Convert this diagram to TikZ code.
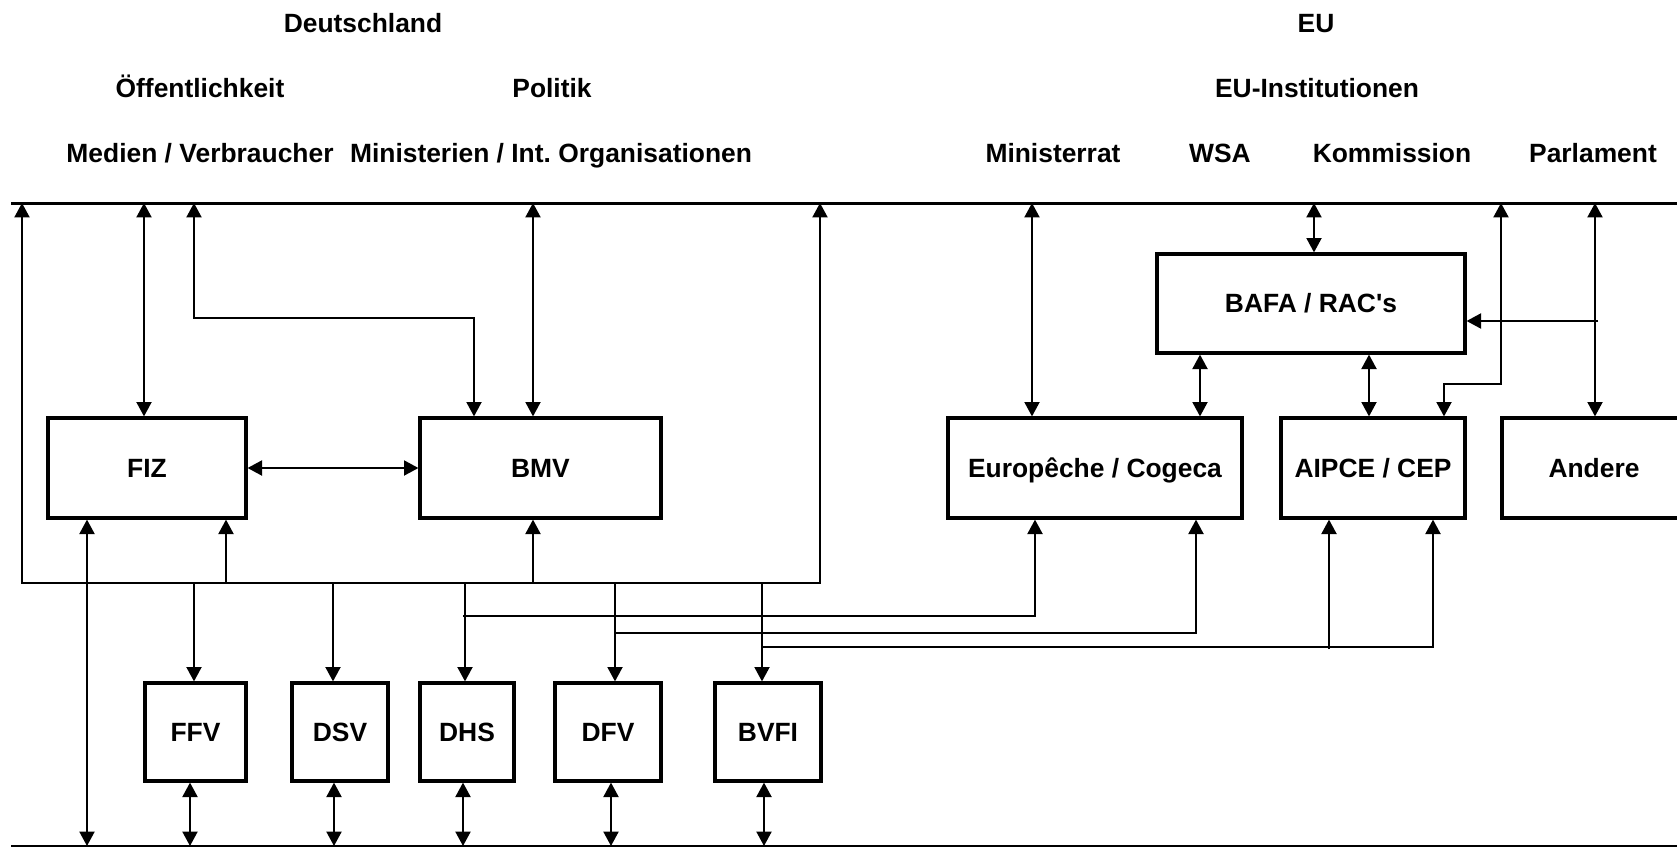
\documentclass[tikz,border=0pt]{standalone}
\usepackage{fontspec}
\setmainfont{Liberation Sans}
\usetikzlibrary{arrows.meta}
\frenchspacing
\begin{document}
\begin{tikzpicture}[x=0.5pt,y=-0.5pt,
  fnt/.style={font=\bfseries\fontsize{13.2pt}{15pt}\selectfont},
  lbl/.style={fnt,inner sep=0pt,anchor=base},
  box/.style={fnt,draw,line width=1.6pt,inner sep=0pt,text height=9.45pt,text depth=0pt,align=center},
  con/.style={line width=1pt},
  tip/.tip={Triangle[length=7.2pt,width=7.5pt]},
  arr/.style={con,-tip},
  dbl/.style={con,tip-tip},
  topline/.style={line width=1.5pt},
  botline/.style={line width=0.6pt}]
\useasboundingbox (0,0) rectangle (1677,847);

% header labels
\node[lbl] (de) at (363,32) {Deutschland};
\node[lbl] (eu) at (1316,32) {EU};
\node[lbl] (oef) at (200,97) {Öffentlichkeit};
\node[lbl] (pol) at (552,97) {Politik};
\node[lbl] (euinst) at (1317,97) {EU-Institutionen};
\node[lbl] (med) at (200,162) {Medien / Verbraucher};
\node[lbl] (min) at (551,162) {Ministerien / Int.\ Organisationen};
\node[lbl] (mrat) at (1053,162) {Ministerrat};
\node[lbl] (wsa) at (1220,162) {WSA};
\node[lbl] (kom) at (1392,162) {Kommission};
\node[lbl] (parl) at (1593,162) {Parlament};

% boxes
\node[box,minimum width=99pt,minimum height=50pt] (fiz) at (147,468) {FIZ};
\node[box,minimum width=120.5pt,minimum height=50pt] (bmv) at (540.5,468) {BMV};
\node[box,minimum width=154pt,minimum height=49.5pt] (bafa) at (1311,303.5) {BAFA / RAC\textquotesingle s};
\node[box,minimum width=147pt,minimum height=50pt] (euro) at (1095,468) {Europêche / Cogeca};
\node[box,minimum width=92pt,minimum height=50pt] (aipce) at (1373,468) {AIPCE / CEP};
\node[box,minimum width=92pt,minimum height=50pt] (andere) at (1594,468) {Andere};
\node[box,minimum width=50.5pt,minimum height=49pt] (ffv) at (195.5,732) {FFV};
\node[box,minimum width=48pt,minimum height=49pt] (dsv) at (340,732) {DSV};
\node[box,minimum width=47pt,minimum height=49pt] (dhs) at (467,732) {DHS};
\node[box,minimum width=53pt,minimum height=49pt] (dfv) at (608,732) {DFV};
\node[box,minimum width=53pt,minimum height=49pt] (bvfi) at (768,732) {BVFI};

% coordinates
\coordinate (tl) at (11,203);
\coordinate (tr) at (1700,203);
\coordinate (bl) at (11,846);
\coordinate (br) at (1700,846);
\coordinate (t1) at (22,203);
\coordinate (t2) at (144,203);
\coordinate (t3) at (194,203);
\coordinate (t4) at (533,203);
\coordinate (t5) at (820,203);
\coordinate (t6) at (1032,203);
\coordinate (t7) at (1314,203);
\coordinate (t8) at (1501,203);
\coordinate (t9) at (1595,203);
\coordinate (bus1) at (22,583);
\coordinate (bus2) at (820,583);
\coordinate (k1) at (194,318);
\coordinate (k2) at (474,318);
\coordinate (k3) at (1501,384);
\coordinate (k4) at (1444,384);
\coordinate (k5) at (1598,321);
\coordinate (u1) at (226,583);
\coordinate (u2) at (533,583);
\coordinate (d1) at (194,583);
\coordinate (d2) at (333,583);
\coordinate (d3) at (465,583);
\coordinate (d4) at (615,583);
\coordinate (d5) at (762,583);
\coordinate (b0) at (87,846);
\coordinate (b1) at (190,846);
\coordinate (b2) at (334,846);
\coordinate (b3) at (463,846);
\coordinate (b4) at (611,846);
\coordinate (b5) at (764,846);
\coordinate (e1) at (1200,386);
\coordinate (e2) at (1369,386);
\coordinate (h1) at (463,616);
\coordinate (h1e) at (1035,616);
\coordinate (h2) at (615,633);
\coordinate (h2e) at (1196,633);
\coordinate (h3) at (762,647);
\coordinate (h3e) at (1433,647);
\coordinate (h3a) at (1329,649);

% main lines
\draw[topline] (tl) -- (tr);
\draw[botline] (bl) -- (br);

% Germany
\draw[dbl] (t1) -- (bus1) -- (bus2) -- (t5);
\draw[dbl] (t2) -- (t2 |- fiz.north);
\draw[dbl] (t3) -- (k1) -- (k2) -- (k2 |- bmv.north);
\draw[dbl] (t4) -- (t4 |- bmv.north);
\draw[dbl] (fiz.east) -- (bmv.west);
\draw[dbl] (b0 |- fiz.south) -- (b0);
\draw[arr] (u1) -- (u1 |- fiz.south);
\draw[arr] (u2) -- (u2 |- bmv.south);
\draw[arr] (d1) -- (d1 |- ffv.north);
\draw[arr] (d2) -- (d2 |- dsv.north);
\draw[arr] (d3) -- (d3 |- dhs.north);
\draw[arr] (d4) -- (d4 |- dfv.north);
\draw[arr] (d5) -- (d5 |- bvfi.north);
\draw[dbl] (b1 |- ffv.south) -- (b1);
\draw[dbl] (b2 |- dsv.south) -- (b2);
\draw[dbl] (b3 |- dhs.south) -- (b3);
\draw[dbl] (b4 |- dfv.south) -- (b4);
\draw[dbl] (b5 |- bvfi.south) -- (b5);

% links to EU associations
\draw[arr] (h1) -- (h1e) -- (h1e |- euro.south);
\draw[arr] (h2) -- (h2e) -- (h2e |- euro.south);
\draw[arr] (h3) -- (h3e) -- (h3e |- aipce.south);
\draw[arr] (h3a) -- (h3a |- aipce.south);

% EU
\draw[dbl] (t6) -- (t6 |- euro.north);
\draw[dbl] (t7) -- (t7 |- bafa.north);
\draw[dbl] (t8) -- (k3) -- (k4) -- (k4 |- aipce.north);
\draw[dbl] (t9) -- (t9 |- andere.north);
\draw[arr] (k5) -- (bafa.east |- k5);
\draw[dbl] (e1 |- bafa.south) -- (e1 |- euro.north);
\draw[dbl] (e2 |- bafa.south) -- (e2 |- aipce.north);
\end{tikzpicture}
\end{document}
